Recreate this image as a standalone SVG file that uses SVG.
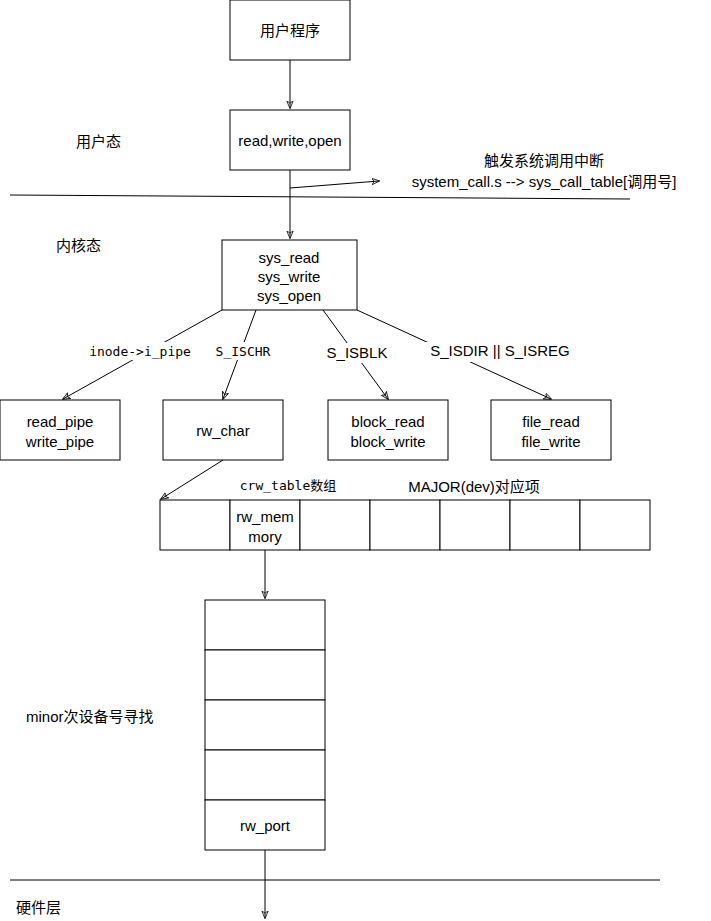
<svg xmlns="http://www.w3.org/2000/svg" width="711" height="921" viewBox="0 0 711 921">
<style>
rect{fill:#fff;stroke:#000;stroke-width:1}
text{font-family:"Liberation Sans","Noto Sans CJK SC",sans-serif;font-size:15px;fill:#000;text-anchor:middle}
.m{font-family:"DejaVu Sans Mono","Noto Sans CJK SC",monospace;font-size:13px}
.l{text-anchor:start}
line,path{stroke:#000;stroke-width:1;fill:none}
.lb{fill:#fff;stroke:none}
</style>
<defs><marker id="a" viewBox="0 0 10 10" refX="9" refY="5" markerWidth="8" markerHeight="8" orient="auto"><path d="M0,1 L10,5 L0,9 L3,5 Z" fill="#000" stroke="none"/></marker></defs>
<rect x="0" y="0" width="711" height="921" style="stroke:none"/>
<g id="edges">
<line x1="290" y1="60" x2="290" y2="108" marker-end="url(#a)"/>
<line x1="290" y1="170" x2="290" y2="238" marker-end="url(#a)"/>
<line x1="290" y1="188" x2="379" y2="181" marker-end="url(#a)"/>
<line x1="10" y1="195" x2="630" y2="199"/>
<line x1="222" y1="310" x2="63" y2="399" marker-end="url(#a)"/>
<line x1="256" y1="310" x2="223" y2="399" marker-end="url(#a)"/>
<line x1="323" y1="310" x2="388" y2="399" marker-end="url(#a)"/>
<line x1="357" y1="310" x2="551" y2="399" marker-end="url(#a)"/>
<line x1="223" y1="460" x2="161" y2="499" marker-end="url(#a)"/>
<line x1="265" y1="550" x2="265" y2="598" marker-end="url(#a)"/>
<line x1="10" y1="880" x2="660" y2="880"/>
<line x1="265" y1="850" x2="265" y2="918" marker-end="url(#a)"/>
<rect class="lb" x="84" y="342" width="112" height="18"/>
<rect class="lb" x="212" y="342" width="62" height="18"/>
<rect class="lb" x="324" y="343" width="68" height="20"/>
<rect class="lb" x="425" y="342" width="150" height="20"/>
<text class="m" x="140" y="356">inode-&gt;i_pipe</text>
<text class="m" x="243" y="356">S_ISCHR</text>
<text x="357" y="358">S_ISBLK</text>
<text x="500" y="356">S_ISDIR || S_ISREG</text>
</g>
<g id="user"><rect x="230" y="0" width="120" height="60"/><text x="290" y="36">用户程序</text></g>
<g id="rwo"><rect x="230" y="110" width="120" height="60"/><text x="290" y="146">read,write,open</text></g>
<g id="labels">
<text class="l" x="76" y="147">用户态</text>
<text class="l" x="56" y="251">内核态</text>
<text x="544" y="166">触发系统调用中断</text>
<text x="544" y="187">system_call.s --&gt; sys_call_table[调用号]</text>
<text class="m" x="288" y="490">crw_table数组</text>
<text x="474" y="492">MAJOR(dev)对应项</text>
<text class="l" x="26" y="722">minor次设备号寻找</text>
<text class="l" x="16" y="913">硬件层</text>
</g>
<g id="sys"><rect x="222" y="240" width="135" height="70"/><text x="289" y="263">sys_read</text><text x="289" y="282">sys_write</text><text x="289" y="301">sys_open</text></g>
<g id="pipe"><rect x="0" y="400" width="120" height="60"/><text x="60" y="427">read_pipe</text><text x="60" y="447">write_pipe</text></g>
<g id="rwchar"><rect x="163" y="400" width="120" height="60"/><text x="223" y="436">rw_char</text></g>
<g id="block"><rect x="328" y="400" width="120" height="60"/><text x="388" y="427">block_read</text><text x="388" y="447">block_write</text></g>
<g id="file"><rect x="491" y="400" width="120" height="60"/><text x="551" y="427">file_read</text><text x="551" y="447">file_write</text></g>
<g id="crw">
<rect x="160" y="500" width="70" height="50"/><rect x="230" y="500" width="70" height="50"/><rect x="300" y="500" width="70" height="50"/><rect x="370" y="500" width="70" height="50"/><rect x="440" y="500" width="70" height="50"/><rect x="510" y="500" width="70" height="50"/><rect x="580" y="500" width="70" height="50"/>
<text x="265" y="522">rw_mem</text><text x="265" y="542">mory</text>
</g>
<g id="minor">
<rect x="205" y="600" width="120" height="50"/><rect x="205" y="650" width="120" height="50"/><rect x="205" y="700" width="120" height="50"/><rect x="205" y="750" width="120" height="50"/><rect x="205" y="800" width="120" height="50"/>
<text x="265" y="831">rw_port</text>
</g>
</svg>
